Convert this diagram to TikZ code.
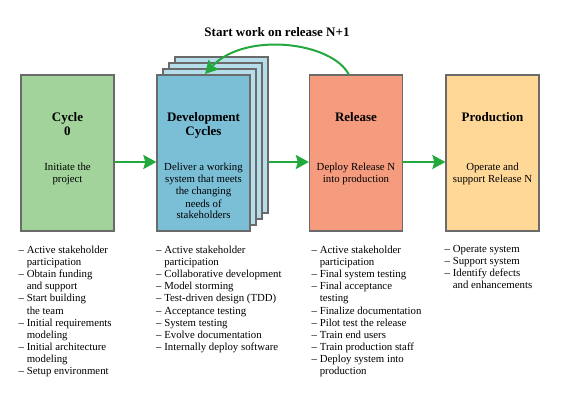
\documentclass[tikz,border=0pt]{standalone}
\usepackage{fontspec}
\setmainfont{Liberation Serif}
\usetikzlibrary{arrows.meta}
\definecolor{cgreen}{HTML}{A1D39B}
\definecolor{cblue}{HTML}{7BBFD7}
\definecolor{cblueback}{HTML}{B6DDEA}
\definecolor{csalmon}{HTML}{F59C7F}
\definecolor{cyellow}{HTML}{FFD898}
\definecolor{cborder}{HTML}{6A6A6A}
\definecolor{carrow}{HTML}{22A83C}
\tikzset{
  phase/.style={draw=cborder, line width=1.3pt, minimum width=93pt, minimum height=156pt, inner sep=0pt},
  garrow/.style={draw=carrow, line width=2pt, -{Stealth[length=13pt,width=14pt,inset=2pt]}},
  head/.style={anchor=base, inner sep=0pt, font=\fontsize{13}{14}\selectfont\bfseries},
  body/.style={anchor=base, inner sep=0pt, font=\fontsize{10.8}{12}\selectfont},
  lst/.style={anchor=base west, inner sep=0pt, font=\fontsize{10.8}{12.1}\selectfont},
}
\newcommand{\ctext}[2]{\parbox[t]{#1}{\centering #2}}
\newcommand{\ltext}[1]{\parbox[t]{140pt}{\raggedright #1}}
\newcommand{\cont}{\hphantom{– }}
\begin{document}
\begin{tikzpicture}[x=1pt,y=-1pt]
\useasboundingbox (0,0) rectangle (565,409);
% boxes
\node[phase, fill=cgreen] (c0) at (67.5,153) {};
\node[phase, fill=cblueback] (d3) at (221.5,135) {};
\node[phase, fill=cblueback] (d2) at (215.5,141) {};
\node[phase, fill=cblueback] (d1) at (209.5,147) {};
\node[phase, fill=cblue] (dev) at (203.5,153) {};
\node[phase, fill=csalmon] (rel) at (356,153) {};
\node[phase, fill=cyellow] (prod) at (492.5,153) {};
% headings
\node[head] (h0) at (67.5,122) {\ctext{90pt}{Cycle\\0}};
\node[head] (h1) at (203.5,122) {\ctext{90pt}{Development\\Cycles}};
\node[head] (h2) at (356,122) {\ctext{90pt}{Release}};
\node[head] (h3) at (492.5,122) {\ctext{90pt}{Production}};
% bodies
\node[body] (b0) at (67.5,171) {\ctext{90pt}{Initiate the\\project}};
\node[body] (b1) at (203.5,171) {\ctext{92pt}{Deliver a working\\system that meets\\the changing\\needs of\\stakeholders}};
\node[body] (b2) at (356,171) {\ctext{92pt}{Deploy Release N\\into production}};
\node[body] (b3) at (492.5,171) {\ctext{92pt}{Operate and\\support Release N}};
% arrows
\draw[garrow] ([yshift=-9pt]c0.east) -- ([yshift=-9pt]dev.west);
\draw[garrow] ([yshift=-27pt]d3.east) -- ([yshift=-9pt]rel.west);
\draw[garrow] ([yshift=-9pt]rel.east) -- ([yshift=-9pt]prod.west);
\coordinate (cs) at (349,75);
\coordinate (ce) at (205,74);
\draw[garrow] (cs) .. controls (333,42) and (245,31) .. (ce);
\node[head] (lbl) at (277,37) {Start work on release N+1};
% lists
\node[lst] (l0) at (18.5,253.5) {\ltext{– Active stakeholder\\
\cont participation\\
– Obtain funding\\
\cont and support\\
– Start building\\
\cont the team\\
– Initial requirements\\
\cont modeling\\
– Initial architecture\\
\cont modeling\\
– Setup environment}};
\node[lst] (l1) at (156,253.5) {\ltext{– Active stakeholder\\
\cont participation\\
– Collaborative development\\
– Model storming\\
– Test-driven design (TDD)\\
– Acceptance testing\\
– System testing\\
– Evolve documentation\\
– Internally deploy software}};
\node[lst] (l2) at (311.5,253.5) {\ltext{– Active stakeholder\\
\cont participation\\
– Final system testing\\
– Final acceptance\\
\cont testing\\
– Finalize documentation\\
– Pilot test the release\\
– Train end users\\
– Train production staff\\
– Deploy system into\\
\cont production}};
\node[lst] (l3) at (444.5,252) {\ltext{– Operate system\\
– Support system\\
– Identify defects\\
\cont and enhancements}};
\end{tikzpicture}
\end{document}
